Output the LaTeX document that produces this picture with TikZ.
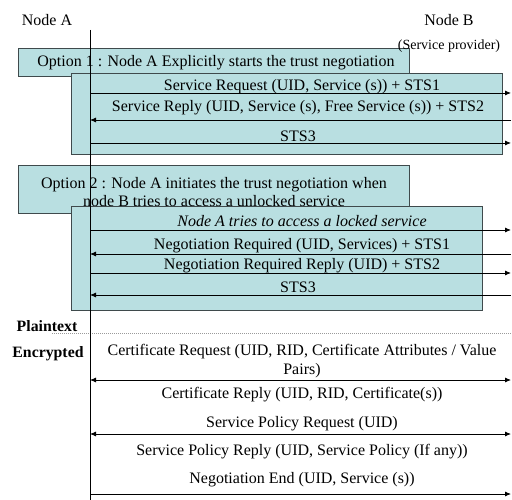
\documentclass[tikz,border=0pt]{standalone}
\usepackage{fontspec}
\setmainfont{Liberation Serif}
\usetikzlibrary{arrows.meta}
\definecolor{boxfill}{HTML}{B9DFE1}
\definecolor{boxline}{HTML}{3F4A4C}
\definecolor{dotgrey}{HTML}{9A9A9A}
\begin{document}
\begin{tikzpicture}[x=1pt,y=-1pt,
  lbl/.style={font=\fontsize{16}{18.5}\selectfont, inner sep=0pt},
  small/.style={font=\fontsize{14}{16}\selectfont, inner sep=0pt},
  bold/.style={font=\fontsize{15.8}{18}\selectfont\bfseries, inner sep=0pt},
  frame/.style={draw=boxline, fill=boxfill, line width=0.9pt},
  msg/.style={line width=0.8pt, -{Latex[length=6pt,width=5pt]}},
  dmsg/.style={line width=0.8pt, {Latex[length=6pt,width=5pt]}-{Latex[length=6pt,width=5pt]}},
  life/.style={line width=1pt}]
\useasboundingbox (0,0) rectangle (512,500);

% header
\node[lbl] (na) at (47,20) {Node A};
\node[lbl] (nb) at (449,20) {Node B};

% Option 1
\draw[frame] (18,48) rectangle (409,76);
\node[lbl] (o1) at (216,63) {Option 1 : Node A Explicitly starts the trust negotiation};
\draw[frame] (71,73) rectangle (502,154);
\node[small] (sp) at (449,46) {(Service provider)};

% Option 2
\draw[frame] (18,165) rectangle (409,213);
\node[lbl, align=center] (o2) at (214,192) {Option 2 : Node A initiates the trust negotiation when\\node B tries to access a unlocked service};
\draw[frame] (71,206) rectangle (482,310);

% lifeline coordinates
\coordinate (ltop) at (90,30);
\coordinate (lbot) at (90,500);
\foreach \n/\y in {a1/93,a2/120,a3/143,b1/230,b2/254,b3/273,b4/295,c1/380,c2/434,c3/494}{
  \coordinate (L\n) at (90,\y);
  \coordinate (R\n) at (511,\y);
}

% Option 1 messages
\node[lbl] (m1) at (302,87) {Service Request (UID, Service (s)) + STS1};
\draw[msg] (La1) -- (Ra1);
\node[lbl] (m2) at (298,108) {Service Reply (UID, Service (s), Free Service (s)) + STS2};
\draw[msg] (Ra2) -- (La2);
\node[lbl] (m3) at (298,136) {STS3};
\draw[msg] (La3) -- (Ra3);

% Option 2 messages
\node[lbl, font=\fontsize{16}{18.5}\selectfont\itshape] (n1) at (302,221) {Node A tries to access a locked service};
\draw[msg] (Lb1) -- (Rb1);
\node[lbl] (n2) at (302,246) {Negotiation Required (UID, Services) + STS1};
\draw[msg] (Rb2) -- (Lb2);
\node[lbl] (n3) at (302,266) {Negotiation Required Reply (UID) + STS2};
\draw[msg] (Lb3) -- (Rb3);
\node[lbl] (n4) at (298,287) {STS3};
\draw[msg] (Rb4) -- (Lb4);

% plaintext / encrypted
\node[bold] (pt) at (47,326) {Plaintext};
\coordinate (dl) at (52,333);
\coordinate (dr) at (512,333);
\draw[dotgrey, line width=1pt, dash pattern=on 1pt off 1pt] (dl) -- (dr);
\node[bold] (en) at (48,354) {Encrypted};

\node[lbl, align=center] (k1) at (302,361) {Certificate Request (UID, RID, Certificate Attributes / Value\\Pairs)};
\draw[dmsg] (Lc1) -- (Rc1);
\node[lbl] (k2) at (302,395) {Certificate Reply (UID, RID, Certificate(s))};
\node[lbl] (k3) at (302,424) {Service Policy Request (UID)};
\draw[dmsg] (Lc2) -- (Rc2);
\node[lbl] (k4) at (302,452) {Service Policy Reply (UID, Service Policy (If any))};
\node[lbl] (k5) at (302,480) {Negotiation End (UID, Service (s))};
\draw[msg] (Lc3) -- (Rc3);

% lifeline on top
\draw[life] (ltop) -- (lbot);
\end{tikzpicture}
\end{document}
